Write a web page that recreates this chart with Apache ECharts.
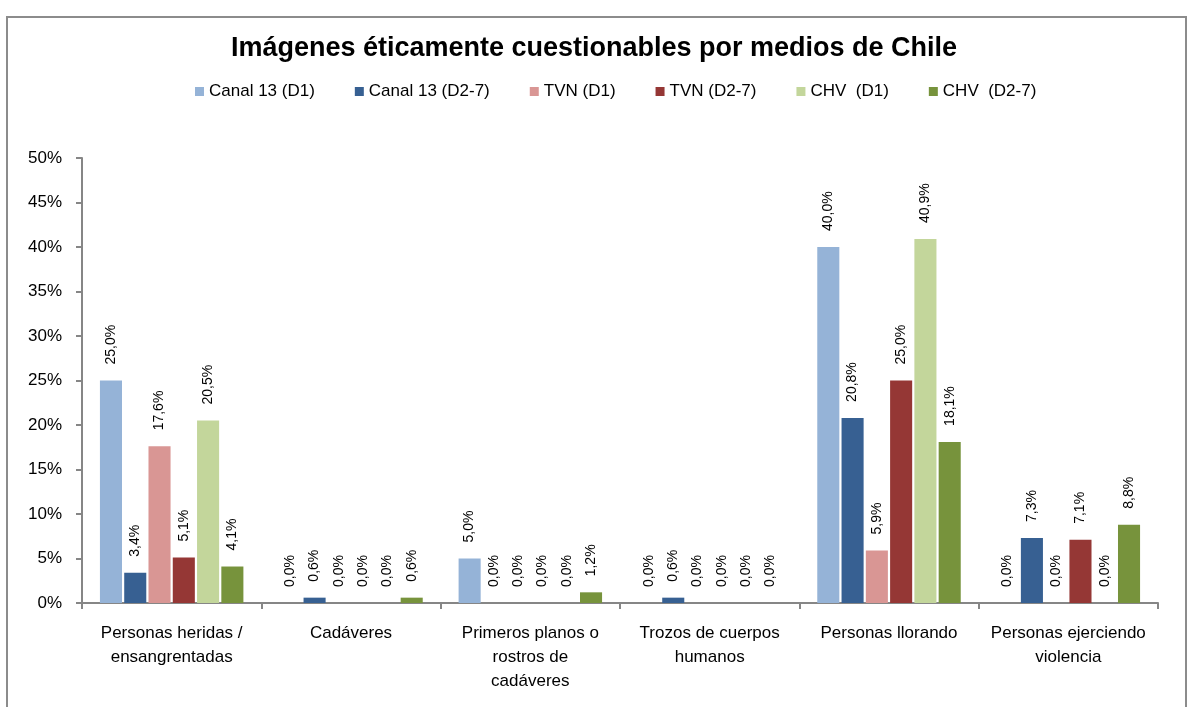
<!DOCTYPE html>
<html><head><meta charset="utf-8">
<script src="https://cdn.jsdelivr.net/npm/echarts@6/dist/echarts.min.js"></script>
<style>html,body{margin:0;padding:0;background:#fff}#c{width:1188px;height:707px}</style>
</head><body><div id="c"></div>
<script>
const categories = ['Personas heridas /\nensangrentadas','Cadáveres','Primeros planos o\nrostros de\ncadáveres','Trozos de cuerpos\nhumanos','Personas llorando','Personas ejerciendo\nviolencia'];
const seriesNames = ['Canal 13 (D1)','Canal 13 (D2-7)','TVN (D1)','TVN (D2-7)','CHV  (D1)','CHV  (D2-7)'];
const canal13D1 = [25.0, 0.0, 5.0, 0.0, 40.0, 0.0];
const canal13D27 = [3.4, 0.6, 0.0, 0.6, 20.8, 7.3];
const tvnD1 = [17.6, 0.0, 0.0, 0.0, 5.9, 0.0];
const tvnD27 = [5.1, 0.0, 0.0, 0.0, 25.0, 7.1];
const chvD1 = [20.5, 0.0, 0.0, 0.0, 40.9, 0.0];
const chvD27 = [4.1, 0.6, 1.2, 0.0, 18.1, 8.8];
const yTicks = [0,5,10,15,20,25,30,35,40,45,50];
const colors = ['#95B3D7','#376092','#D99694','#953735','#C3D69B','#77933C'];
const allData = [canal13D1, canal13D27, tvnD1, tvnD27, chvD1, chvD27];
const FONT = "'Liberation Sans',sans-serif";

const chart = echarts.init(document.getElementById('c'));
chart.setOption({
  animation:false,
  textStyle:{fontFamily:FONT},
  title:{text:'Imágenes éticamente cuestionables por medios de Chile',left:'center',top:30,
    textStyle:{fontFamily:FONT,fontSize:27,fontWeight:'bold',color:'#000'}},
  legend:{top:78,left:190,icon:'rect',itemWidth:9,itemHeight:9,itemGap:40,
    textStyle:{fontFamily:FONT,fontSize:17,color:'#000'},data:seriesNames},
  graphic:[{type:'rect',shape:{x:7,y:17,width:1179,height:700},style:{fill:null,stroke:'#8c8c8c',lineWidth:2},silent:true}],
  grid:{left:82,right:30,top:158,bottom:104,containLabel:false},
  xAxis:{type:'category',data:categories,
    axisLine:{lineStyle:{color:'#868686',width:2}},
    axisTick:{show:true,length:6,lineStyle:{color:'#868686',width:2},alignWithLabel:false},
    axisLabel:{fontFamily:FONT,fontSize:17,color:'#000',lineHeight:24,margin:18,interval:0}},
  yAxis:{type:'value',min:yTicks[0],max:yTicks[yTicks.length-1],interval:5,
    axisLine:{show:true,lineStyle:{color:'#868686',width:2}},
    axisTick:{show:true,length:6,lineStyle:{color:'#868686',width:2}},
    splitLine:{show:false},
    axisLabel:{fontFamily:FONT,fontSize:17,color:'#000',margin:20,formatter:v=>v+'%'}},
  series: seriesNames.map((n,i)=>({
    name:n,type:'bar',data:allData[i],barGap:'10%',barCategoryGap:'20%',z:1,
    itemStyle:{color:colors[i],borderWidth:0},
    label:{show:true,position:'top',rotate:90,align:'left',verticalAlign:'middle',distance:16,
      fontFamily:FONT,fontSize:14,color:'#000',
      formatter:p=>p.value.toFixed(1).replace('.',',')+'%'}
  }))
});
</script></body></html>
